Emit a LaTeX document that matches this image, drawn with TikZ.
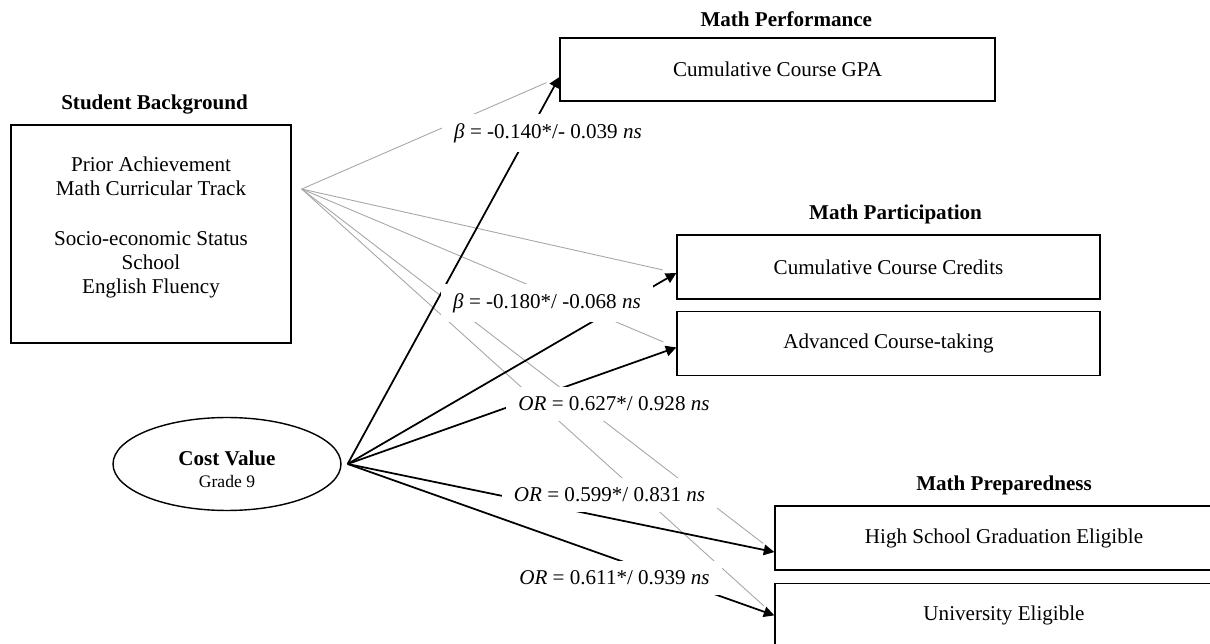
\documentclass[tikz,border=0pt]{standalone}
\usepackage{fontspec}
\setmainfont{Liberation Serif}
\usetikzlibrary{positioning, arrows.meta, shapes.geometric}

\begin{document}
\begin{tikzpicture}[
    x=0.02cm, y=-0.02cm,
    font=\fontsize{12}{13.5}\selectfont,
    box/.style={draw, line width=0.8pt, minimum height=1.28cm, align=center, inner sep=2pt},
    latent/.style={ellipse, draw, line width=0.8pt, minimum width=4.56cm, minimum height=1.86cm,
                   inner sep=0pt, align=center},
    ttl/.style={font=\fontsize{12}{13.5}\selectfont\bfseries, inner sep=0pt},
    coef/.style={fill=white, inner xsep=7pt, inner ysep=5.5pt},
    ctrl/.style={gray!70, line width=0.5pt, shorten >=8pt},
    effect/.style={-{Triangle[length=6pt, width=6pt]}, line width=1pt},
]
\clip (0,0) rectangle (1210,644);

% --- Student background ---
\node[box, minimum width=5.6cm, minimum height=4.36cm] (background) at (151,234)
    {Prior Achievement\\Math Curricular Track\\[15pt]Socio-economic Status\\School\\
     English Fluency\rule[-10pt]{0pt}{10pt}};
\node[ttl, above=0.2cm of background, xshift=2pt] (tbg) {Student Background};

% --- Cost value ---
\node[latent] (costval) at (227,464)
    {\textbf{\rule{0pt}{14pt}Cost Value}\\[-1pt]{\fontsize{10}{12}\selectfont Grade 9}};

% --- Math performance ---
\node[box, minimum width=8.7cm, minimum height=1.26cm] (gpa) at (777.5,69.5) {Cumulative Course GPA};
\node[ttl, above=0.2cm of gpa, xshift=5pt] (tperf) {Math Performance};

% --- Math participation ---
\node[box, minimum width=8.46cm] (credits) at (888.5,267) {Cumulative Course Credits};
\node[box, minimum width=8.46cm, below=0.22cm of credits] (advanced) {Advanced Course-taking};
\node[ttl, above=0.2cm of credits, xshift=4pt] (tpart) {Math Participation};

% --- Math preparedness ---
\node[box, minimum width=9.16cm] (hsgrad) at (1004,538) {High School Graduation Eligible};
\node[box, minimum width=9.16cm, below=0.24cm of hsgrad] (univ) {University Eligible};
\node[ttl, above=0.2cm of hsgrad] (tprep) {Math Preparedness};

% --- Source and target points ---
\coordinate (bgsrc) at ([xshift=5.7pt, yshift=25.6pt]background.east);
\coordinate (cvsrc) at ([xshift=3.4pt]costval.east);
\coordinate (tgpa) at ([yshift=-4.3pt]gpa.west);
\coordinate (tcredits) at ([yshift=-3.4pt]credits.west);
\coordinate (tadvanced) at ([yshift=-2.3pt]advanced.west);
\coordinate (thsgrad) at ([yshift=-8pt]hsgrad.west);
\coordinate (tuniv) at (univ.west);

% --- Controls ---
\draw[ctrl] (bgsrc) -- (tgpa);
\draw[ctrl] (bgsrc) -- (tcredits);
\draw[ctrl] (bgsrc) -- (tadvanced);
\draw[ctrl] (bgsrc) -- (thsgrad);
\draw[ctrl] (bgsrc) -- (tuniv);

% --- Effects of cost value ---
\draw[effect] (cvsrc) -- (tgpa);
\draw[effect] (cvsrc) -- (tcredits);
\draw[effect] (cvsrc) -- (tadvanced);
\draw[effect] (cvsrc) -- (thsgrad);
\draw[effect] (cvsrc) -- (tuniv);

% --- Coefficients ---
\node[coef] (c1) at (548,133) {\textit{β} = -0.140*/- 0.039 \textit{ns}};
\node[coef] (c2) at (547,303) {\textit{β} = -0.180*/ -0.068 \textit{ns}};
\node[coef] (c3) at (614,404) {\textit{OR} = 0.627*/ 0.928 \textit{ns}};
\node[coef] (c4) at (609.5,495) {\textit{OR} = 0.599*/ 0.831 \textit{ns}};
\node[coef] (c5) at (614.5,578) {\textit{OR} = 0.611*/ 0.939 \textit{ns}};

\end{tikzpicture}
\end{document}
